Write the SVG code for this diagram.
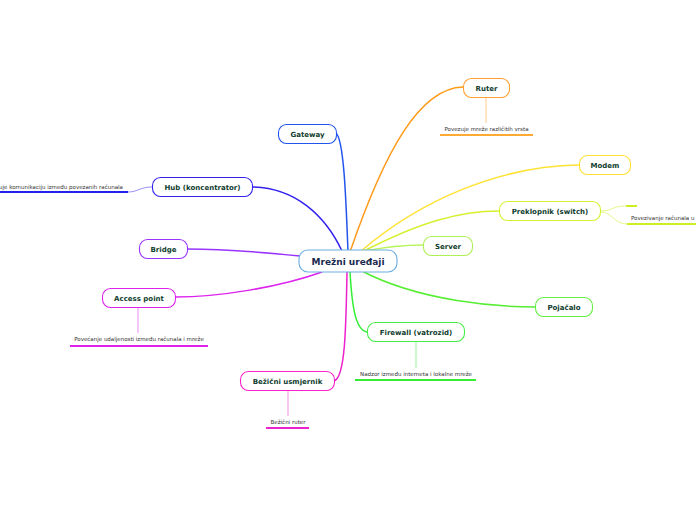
<svg xmlns="http://www.w3.org/2000/svg" width="696" height="520" viewBox="0 0 696 520">
<style>
.n{fill:#fff;stroke-width:1.1}
.t{font-family:"DejaVu Sans",Verdana,sans-serif;font-weight:bold;font-size:7px;fill:#0f3d2e;text-anchor:middle}
.c{font-family:"DejaVu Sans",Verdana,sans-serif;font-weight:bold;font-size:9px;fill:#1b2a4e;text-anchor:middle}
.s{font-family:"DejaVu Sans",Verdana,sans-serif;font-size:5.5px;fill:#333}
.l{fill:none;stroke-width:1.5;stroke-linecap:round}
.v{fill:none;stroke-width:1;opacity:.5}
.u{fill:none;stroke-width:2}
</style>
<rect width="696" height="520" fill="#fff"/>
<g id="connectors">
<path class="l" stroke="#2255ee" d="M348,252 C346,200 344,140 336,133"/>
<path class="l" stroke="#ff9a1a" d="M350,252 C385,150 420,88 463,87"/>
<path class="l" stroke="#ffe233" d="M360,252 C420,200 500,166 579,165"/>
<path class="l" stroke="#d6f030" d="M362,252 C420,222 460,211 499,211"/>
<path class="l" stroke="#b4f455" d="M365,251 C390,246 405,245 423,245"/>
<path class="l" stroke="#55ee33" d="M360,270 C420,302 500,307 535,307"/>
<path class="l" stroke="#33ee33" d="M350,272 C352,305 355,330 367,332"/>
<path class="l" stroke="#ee22cc" d="M347,272 C346,330 345,378 334,381"/>
<path class="l" stroke="#dd22ee" d="M322,272 C280,287 220,297 175,297"/>
<path class="l" stroke="#9933ff" d="M300,256 C260,252 220,249 187,249"/>
<path class="l" stroke="#3322ee" d="M342,251 C325,215 295,188 253,187"/>
<path class="v" stroke="#ff9a1a" d="M486,97 V123"/>
<path class="u" stroke="#ffaa33" d="M440,135 H533"/>
<path class="v" stroke="#33ee33" d="M416,342 V368"/>
<path class="u" stroke="#33ee33" d="M355,380 H476"/>
<path class="v" stroke="#ee22cc" d="M288,390 V416"/>
<path class="u" stroke="#ee22cc" d="M266,428 H309"/>
<path class="v" stroke="#dd22ee" d="M138,307 V333"/>
<path class="u" stroke="#dd22ee" d="M70,346 H208"/>
<path class="v" stroke="#3322ee" d="M152,187 C140,187 138,192 128,192"/>
<path class="u" stroke="#2222ee" d="M0,192 H128"/>
<path class="v" stroke="#ccee22" d="M601,211 C612,211 612,206 626,206"/>
<path class="u" stroke="#ccee22" d="M626,206 H637"/>
<path class="v" stroke="#ccee22" d="M601,212 C612,212 614,224 627,224"/>
<path class="u" stroke="#ccee22" d="M627,224 H696"/>
</g>
<g id="center"><rect class="n" x="299" y="250" width="98" height="22" rx="9" stroke="#6aaee0" stroke-width="1.3"/><text class="c" x="348" y="264.5">Mrežni uređaji</text></g>
<g id="gateway"><rect class="n" x="278.5" y="124.5" width="58" height="19" rx="8" stroke="#2255ee"/><text class="t" x="307.5" y="136.5">Gateway</text></g>
<g id="ruter"><rect class="n" x="463.5" y="78.5" width="46" height="19" rx="8" stroke="#ffa030"/><text class="t" x="486.5" y="90.5">Ruter</text><text class="s" x="486.5" y="131" text-anchor="middle">Povezuje mreže različitih vrsta</text></g>
<g id="modem"><rect class="n" x="579.5" y="155.5" width="51" height="19" rx="8" stroke="#ffe033"/><text class="t" x="605" y="167.5">Modem</text></g>
<g id="preklopnik"><rect class="n" x="499.5" y="201.5" width="101" height="19" rx="8" stroke="#d6f030"/><text class="t" x="550" y="213.5">Preklopnik (switch)</text><text class="s" x="631" y="220">Povezivanje računala u</text></g>
<g id="server"><rect class="n" x="423.5" y="236.5" width="49" height="19" rx="8" stroke="#aef055"/><text class="t" x="448" y="248.5">Server</text></g>
<g id="pojacalo"><rect class="n" x="535.5" y="297.5" width="57" height="19" rx="8" stroke="#66ee44"/><text class="t" x="564" y="309.5">Pojačalo</text></g>
<g id="firewall"><rect class="n" x="367.5" y="322.5" width="97" height="19" rx="8" stroke="#44ee44"/><text class="t" x="416" y="334.5">Firewall (vatrozid)</text><text class="s" x="416" y="376" text-anchor="middle">Nadzor između interneta i lokalne mreže</text></g>
<g id="bezicni"><rect class="n" x="240.5" y="371.5" width="94" height="19" rx="8" stroke="#ff22cc"/><text class="t" x="287.5" y="383.5">Bežični usmjernik</text><text class="s" x="288" y="424" text-anchor="middle">Bežični ruter</text></g>
<g id="accesspoint"><rect class="n" x="102.5" y="288.5" width="73" height="19" rx="8" stroke="#dd22ee"/><text class="t" x="139" y="300.5">Access point</text><text class="s" x="139" y="341" text-anchor="middle">Povećanje udaljenosti između računala i mreže</text></g>
<g id="bridge"><rect class="n" x="139.5" y="239.5" width="48" height="19" rx="8" stroke="#9933ff"/><text class="t" x="163.5" y="251.5">Bridge</text></g>
<g id="hub"><rect class="n" x="152.5" y="177.5" width="100" height="19" rx="8" stroke="#3322ee"/><text class="t" x="202.5" y="189.5">Hub (koncentrator)</text><text class="s" x="123" y="188.5" text-anchor="end">uje komunikaciju između povezanih računala</text></g>
</svg>
